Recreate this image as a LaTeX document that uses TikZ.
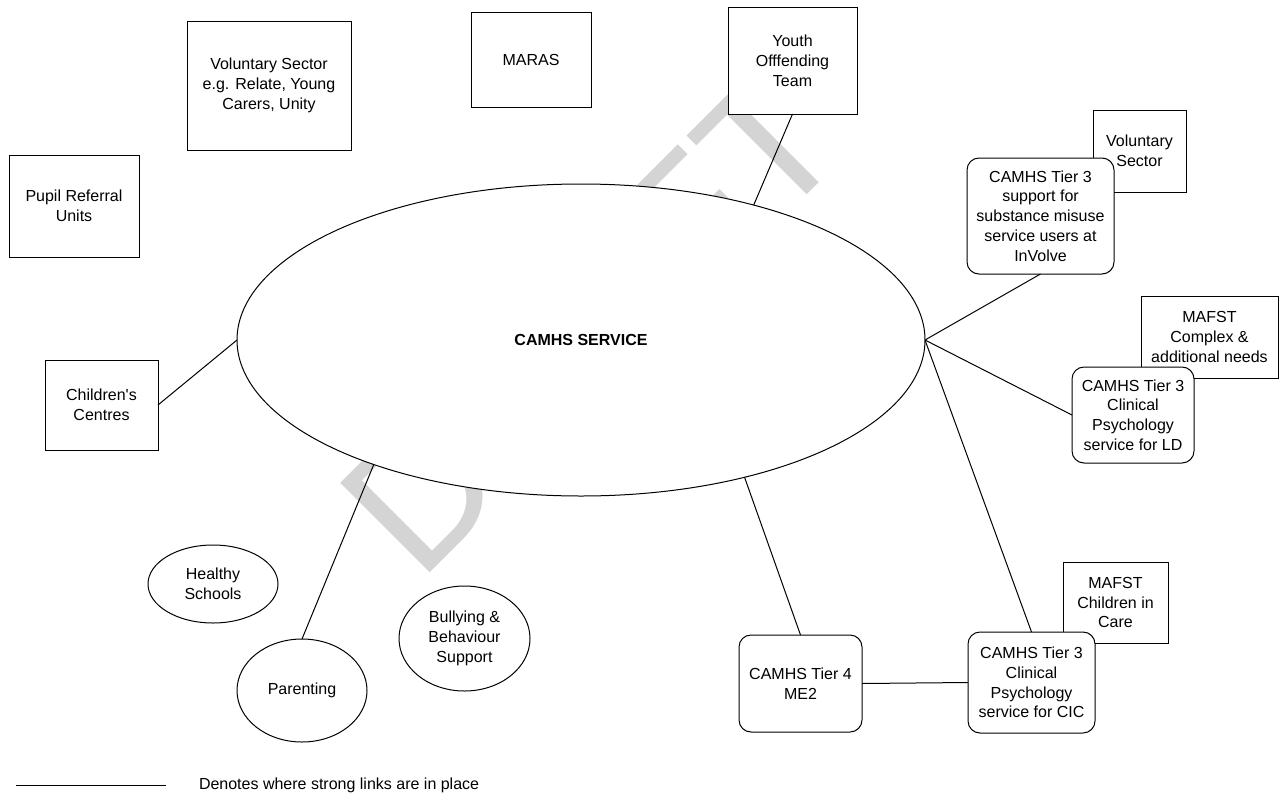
\documentclass[tikz,border=0pt]{standalone}
\usepackage{fontspec}
\setmainfont{Liberation Sans}
\usetikzlibrary{shapes.geometric}
\definecolor{wmark}{RGB}{212,212,212}
% straight apostrophe, set as a glyph so no quote mapping applies
\newcommand{\sq}{\XeTeXglyph\XeTeXcharglyph"27\relax}
\begin{document}
\begin{tikzpicture}[x=1pt,y=-1pt,
  every node/.style={font=\fontsize{16}{19.8}\selectfont, align=center, inner sep=0pt, outer sep=0pt},
  sqbox/.style={draw, fill=white, line width=1pt, rectangle},
  rbox/.style={sqbox, rounded corners=12pt},
  oval/.style={draw, fill=white, line width=1pt, ellipse},
  link/.style={line width=1pt}]
\useasboundingbox (0,0) rectangle (1284,803);

% watermark behind everything
\node[rotate=45, anchor=base west, text=wmark, font=\fontsize{184}{184}\selectfont] (wm) at (419,583) {DRAFT};

% central service
\node[oval, minimum width=688pt, minimum height=312pt] (svc) at (581,340) {\textbf{CAMHS SERVICE}};

% surrounding services (square boxes)
\node[sqbox, minimum width=164pt, minimum height=129pt] (vs) at (269,85.5) {Voluntary Sector\\e.g. Relate, Young\\Carers, Unity};
\node[sqbox, minimum width=120pt, minimum height=95pt] (maras) at (531,59.5) {MARAS};
\node[sqbox, minimum width=129pt, minimum height=107pt] (yot) at (792.5,60.5) {Youth\\Offfending\\Team};
\node[sqbox, minimum width=130pt, minimum height=102pt] (pru) at (74,206) {Pupil Referral\\Units};
\node[sqbox, minimum width=113pt, minimum height=90pt] (cc) at (101.5,405) {Children\sq s\\Centres};

% right-hand cluster: partner boxes first, CAMHS boxes over them
\node[sqbox, minimum width=93pt, minimum height=82pt] (vs2) at (1139.5,151) {Voluntary\\Sector};
\node[rbox, minimum width=147pt, minimum height=116pt] (sub) at (1040.5,216) {CAMHS Tier 3\\support for\\substance misuse\\service users at\\InVolve};
\node[sqbox, minimum width=137pt, minimum height=82pt] (mcx) at (1209.5,337) {MAFST\\Complex \&\\additional needs};
\node[rbox, minimum width=122pt, minimum height=96pt] (ld) at (1133,415) {CAMHS Tier 3\\Clinical\\Psychology\\service for LD};
\node[sqbox, minimum width=105pt, minimum height=81pt] (mcic) at (1115.5,602.5) {MAFST\\Children in\\Care};
\node[rbox, minimum width=127pt, minimum height=101pt] (cic) at (1031.5,682.5) {CAMHS Tier 3\\Clinical\\Psychology\\service for CIC};
\node[rbox, minimum width=123pt, minimum height=97pt] (t4) at (800.5,683.5) {CAMHS Tier 4\\ME2};

% universal services (ovals)
\node[oval, minimum width=130pt, minimum height=78pt] (hs) at (213,584) {Healthy\\Schools};
\node[oval, minimum width=130pt, minimum height=103pt] (par) at (302,690.5) {Parenting};
\node[oval, minimum width=131pt, minimum height=105pt] (bb) at (464.5,638.5) {Bullying \&\\Behaviour\\Support};

% strong links
\draw[link] (yot.south) -- (svc.38);
\draw[link] (cc.east) -- (svc.west);
\draw[link] (par.north) -- (svc.211);
\draw[link] (t4.north) -- (svc.320);
\draw[link] (sub.south) -- (svc.east);
\draw[link] (ld.west) -- (svc.east);
\draw[link] (cic.north) -- (svc.east);
\draw[link] (t4.east) -- (cic.west);

% legend
\coordinate (l1) at (16,785);
\coordinate (l2) at (166,785);
\draw[link] (l1) -- (l2);
\node[anchor=west] (leg) at (199,785) {Denotes where strong links are in place};
\end{tikzpicture}
\end{document}
